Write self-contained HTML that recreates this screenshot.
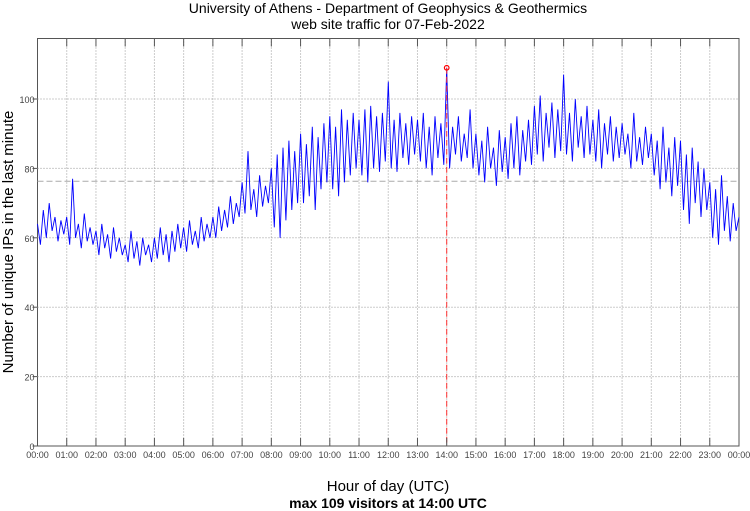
<!DOCTYPE html>
<html><head><meta charset="utf-8"><style>
body{margin:0;background:#fff;}
svg{display:block;font-family:"Liberation Sans",sans-serif;}
</style></head><body>
<svg id="c" width="750" height="511">
<text x="388" y="13" text-anchor="middle" font-size="14">University of Athens - Department of Geophysics &amp; Geothermics</text>
<text x="388" y="29" text-anchor="middle" font-size="14">web site traffic for 07-Feb-2022</text>
<text transform="translate(13,242) rotate(-90)" text-anchor="middle" font-size="15">Number of unique IPs in the last minute</text>
<text x="388" y="491" text-anchor="middle" font-size="15">Hour of day (UTC)</text>
<text x="388" y="508" text-anchor="middle" font-size="14" font-weight="bold">max 109 visitors at 14:00 UTC</text>
<g id="grid"></g><g id="series"></g><g id="ticks"></g>
</svg>
<script>
const yTicks=[0,20,40,60,80,100];
const hourLabels=["00:00","01:00","02:00","03:00","04:00","05:00","06:00","07:00","08:00","09:00","10:00","11:00","12:00","13:00","14:00","15:00","16:00","17:00","18:00","19:00","20:00","21:00","22:00","23:00","00:00"];
const visitors=[64,58,68,60,70,62,66,59,65,61,
66,58,77,60,64,57,67,59,63,58,
62,55,64,57,61,54,63,56,60,55,
58,53,62,54,59,52,60,55,58,53,
60,54,63,55,61,53,62,56,64,57,
63,56,65,58,62,57,66,59,64,60,
66,60,69,62,68,63,72,64,70,66,
76,67,85,68,74,66,78,69,75,70,
80,63,84,60,86,65,88,68,85,70,
90,70,87,72,92,68,89,74,93,76,
95,74,92,72,97,76,94,78,96,80,
94,78,97,76,98,80,95,79,96,82,
105,80,94,79,96,83,93,81,95,84,
94,82,96,80,92,78,95,83,93,81,
109,80,92,84,95,82,90,83,97,80,
90,78,88,76,92,80,86,75,91,79,
89,77,93,80,95,78,91,82,94,81,
98,84,101,82,96,86,99,83,97,85,
107,84,96,82,100,86,95,83,98,84,
94,82,97,80,93,84,95,82,92,83,
93,84,90,80,96,82,89,81,92,83,
90,78,88,74,92,76,86,72,89,75,
88,68,84,64,86,70,82,66,80,68,
76,60,74,58,78,62,72,59,70,62,66];
const meanValue=[76.3];
const maxValue=[109];
const maxHour=[14];

const L=37.5,R=739,T=38.5,B=446;
const X=h=>L+h*(R-L)/24;
const Y=v=>B-v*3.47;
const NS="http://www.w3.org/2000/svg";
function mk(parent,tag,attrs){const e=document.createElementNS(NS,tag);for(const k in attrs)e.setAttribute(k,attrs[k]);document.getElementById(parent).appendChild(e);return e;}

// frame
let f=mk('grid','rect',{x:L,y:T,width:R-L,height:B-T,fill:'none',stroke:'#555','stroke-width':1});


yTicks.forEach(v=>{
  if(v>0){let g=mk('grid','line',{x1:L,x2:R,y1:Y(v),y2:Y(v),stroke:'#999','stroke-dasharray':'1,2'});
  
  }
  let tl=mk('ticks','line',{x1:L-5,x2:L,y1:Y(v),y2:Y(v),stroke:'#555'});
  
  
  let t=mk('ticks','text',{x:L-3,y:Y(v)+4,'text-anchor':'end','font-size':9,fill:'#444'});
  t.textContent=v;
  
  
});
hourLabels.forEach((s,i)=>{
  if(i>0&&i<24){let g=mk('grid','line',{x1:X(i),x2:X(i),y1:T,y2:B,stroke:'#999','stroke-dasharray':'1,2'});
  
  
  let tk=mk('ticks','line',{x1:X(i),x2:X(i),y1:B-8,y2:B,stroke:'#555'});
  
  
  let tk2=mk('ticks','line',{x1:X(i),x2:X(i),y1:T,y2:T+8,stroke:'#555'});
  
  }
  let t=mk('ticks','text',{x:X(i),y:B+12,'text-anchor':'middle','font-size':9,fill:'#444'});
  t.textContent=s;
  
  
});
// mean line
let m=mk('series','line',{x1:L,x2:R,y1:Y(meanValue[0]),y2:Y(meanValue[0]),stroke:'#aaa','stroke-dasharray':'6,3'});


// series
const n=visitors.length-1;
let d=visitors.map((v,i)=>(i?'L':'M')+X(i*24/n).toFixed(1)+','+Y(v).toFixed(1)).join('');
let p=mk('series','path',{d:d,fill:'none',stroke:'#0000ff','stroke-width':0.9});


// max marker
let ml=mk('series','line',{x1:X(maxHour[0]),x2:X(maxHour[0]),y1:Y(maxValue[0]),y2:B,stroke:'#ff3333','stroke-dasharray':'6,3'});


let mc=mk('series','circle',{cx:X(maxHour[0]),cy:Y(maxValue[0]),r:2.3,fill:'none',stroke:'#ff0000','stroke-width':1.2});


</script>
</body></html>
